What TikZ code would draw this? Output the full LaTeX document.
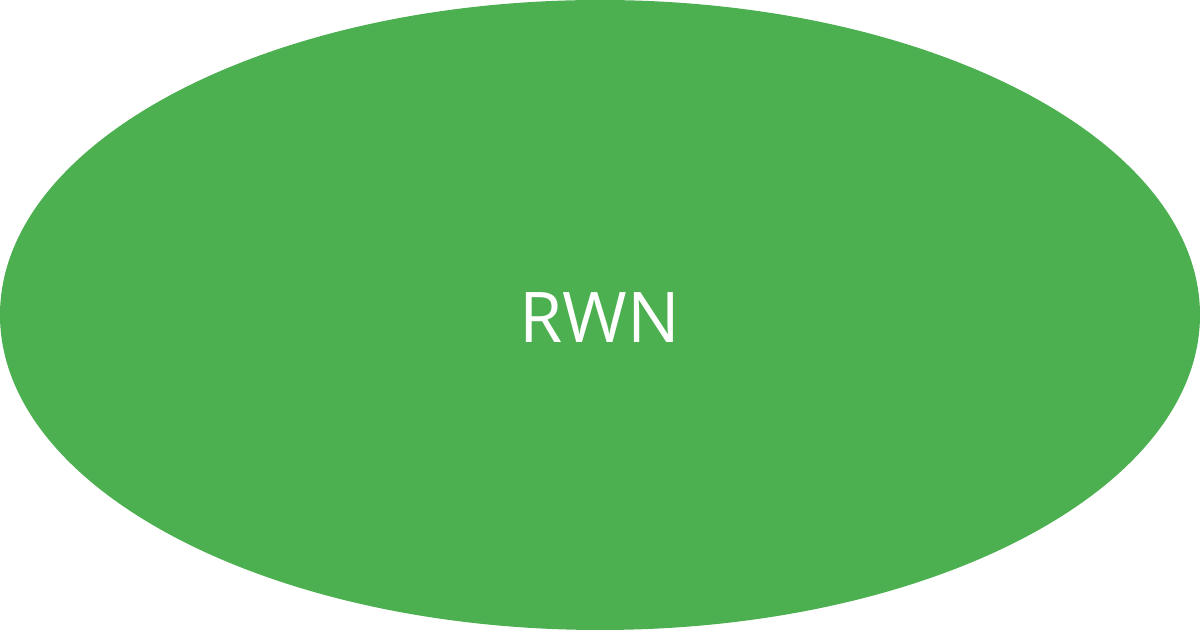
\documentclass[tikz,border=0pt]{standalone}
\usepackage{fontspec}
\setmainfont{Open Sans}
\usetikzlibrary{shapes.geometric}
\definecolor{rwngreen}{HTML}{4CAF50}
\begin{document}
\begin{tikzpicture}
    \useasboundingbox (-6, -3.15) rectangle (6, 3.15);
    \fill[rwngreen] (0, 0) ellipse [x radius=6, y radius=3.15];
    \node[text=white, font=\fontsize{19.9pt}{24pt}\selectfont] (rwn) at (0, -0.03) {RWN};
\end{tikzpicture}
\end{document}
